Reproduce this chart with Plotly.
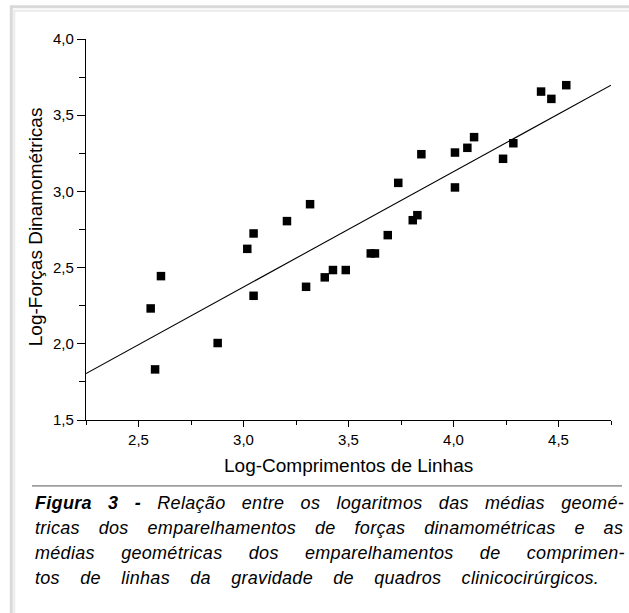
import plotly.graph_objects as go

# ---- data ----
comprimentos = [2.558, 2.607, 2.579, 2.877, 3.018, 3.048, 3.048, 3.207, 3.317, 3.298,
                3.387, 3.426, 3.487, 3.606, 3.626, 3.687, 3.737, 3.806, 3.828, 3.847,
                4.007, 4.007, 4.066, 4.098, 4.236, 4.285, 4.417, 4.466, 4.537]
forcas = [2.232, 2.444, 1.832, 2.005, 2.623, 2.724, 2.315, 2.805, 2.916, 2.374,
          2.436, 2.484, 2.484, 2.593, 2.593, 2.713, 3.056, 2.811, 2.844, 3.244,
          3.255, 3.026, 3.286, 3.356, 3.214, 3.316, 3.655, 3.607, 3.697]
fit_x = [2.25, 4.75]
fit_y = [1.805, 3.697]

x_tick_vals = [2.5, 3.0, 3.5, 4.0, 4.5]
x_tick_text = ["2,5", "3,0", "3,5", "4,0", "4,5"]
y_tick_vals = [1.5, 2.0, 2.5, 3.0, 3.5, 4.0]
y_tick_text = ["1,5", "2,0", "2,5", "3,0", "3,5", "4,0"]

x_title = "Log-Comprimentos de Linhas"
y_title = "Log-Forças Dinamométricas"
caption_lines = [
    "<b>Figura 3 -</b> Relação entre os logaritmos das médias geomé-",
    "tricas dos emparelhamentos de forças dinamométricas e as",
    "médias geométricas dos emparelhamentos de comprimen-",
    "tos de linhas da gravidade de quadros clinicocirúrgicos.",
]
caption_word_spacing = [11, 13.6, 21, 15]

# ---- layout geometry (pixels) ----
W, H = 629, 613
L, R, T, B = 86, 611, 38.6, 420


def px(xp):
    return (xp - L) / (R - L)


def py(yp):
    return (B - yp) / (B - T)


FONT = "Liberation Sans, Arial, sans-serif"
NARROW = "Liberation Sans Narrow, Liberation Sans, Arial, sans-serif"

fig = go.Figure()
fig.add_trace(go.Scatter(x=fit_x, y=fit_y, mode="lines",
                         line=dict(color="black", width=1.1), showlegend=False,
                         hoverinfo="skip"))
fig.add_trace(go.Scatter(x=comprimentos, y=forcas, mode="markers",
                         marker=dict(symbol="square", size=8.5, color="black",
                                     line=dict(width=0)),
                         showlegend=False))

fig.update_layout(
    width=W, height=H,
    margin=dict(l=L, r=W - R, t=T, b=H - B, pad=0),
    paper_bgcolor="white", plot_bgcolor="white",
    font=dict(family=FONT, color="black"),
    xaxis=dict(range=[2.25, 4.75], showgrid=False, zeroline=False,
               showline=True, linecolor="black", linewidth=1.3,
               ticks="outside", ticklen=6, tickwidth=1.3, tickcolor="black",
               tickmode="array", tickvals=x_tick_vals, ticktext=x_tick_text,
               tickfont=dict(family=NARROW, size=15, color="black"),
               minor=dict(tickmode="linear", tick0=2.25, dtick=0.25,
                          ticks="outside", ticklen=4, tickwidth=1.3,
                          tickcolor="black", showgrid=False)),
    yaxis=dict(range=[1.5, 4.0], showgrid=False, zeroline=False,
               showline=True, linecolor="black", linewidth=1.3,
               ticks="outside", ticklen=8, tickwidth=1.3, tickcolor="black",
               tickmode="array", tickvals=y_tick_vals, ticktext=y_tick_text,
               tickfont=dict(family=NARROW, size=15, color="black"),
               minor=dict(tickmode="linear", tick0=1.5, dtick=0.25,
                          ticks="outside", ticklen=6, tickwidth=1.3,
                          tickcolor="black", showgrid=False)),
)

annotations = [
    dict(text=x_title, x=px(348), y=py(466), xref="paper", yref="paper",
         xanchor="center", yanchor="middle", showarrow=False,
         font=dict(family=FONT, size=19, color="black")),
    dict(text=y_title, x=px(35), y=py(227), xref="paper", yref="paper",
         xanchor="center", yanchor="middle", showarrow=False, textangle=-90,
         font=dict(family=FONT, size=19, color="black")),
]
cap_y = [503, 528, 553, 578]
for line, ws, yy in zip(caption_lines, caption_word_spacing, cap_y):
    annotations.append(dict(
        text='<span style="letter-spacing:0.3px;word-spacing:%spx">%s</span>' % (ws, line),
        x=px(33), y=py(yy), xref="paper", yref="paper",
        xanchor="left", yanchor="middle", showarrow=False, align="left",
        font=dict(family=FONT, size=18, color="black", style="italic")))
fig.update_layout(annotations=annotations)

shapes = [
    # separator line under the axis title
    dict(type="line", xref="paper", yref="paper", x0=px(32), x1=px(622),
         y0=py(486), y1=py(486), line=dict(color="#555555", width=1)),
    # outer light frame (top and left)
    dict(type="line", xref="paper", yref="paper", x0=px(10), x1=px(640),
         y0=py(6.2), y1=py(6.2), line=dict(color="#d9d9d9", width=3)),
    dict(type="line", xref="paper", yref="paper", x0=px(13.3), x1=px(640),
         y0=py(10.3), y1=py(10.3), line=dict(color="#ebebeb", width=2)),
    dict(type="line", xref="paper", yref="paper", x0=px(11.3), x1=px(11.3),
         y0=py(5), y1=py(620), line=dict(color="#d9d9d9", width=3)),
    dict(type="line", xref="paper", yref="paper", x0=px(14.3), x1=px(14.3),
         y0=py(9.3), y1=py(620), line=dict(color="#ebebeb", width=2)),
]
fig.update_layout(shapes=shapes)

fig.write_html("out.html", config={"displayModeBar": False},
               post_script="document.body.style.margin='0';"
                           "document.body.style.overflow='hidden';")
